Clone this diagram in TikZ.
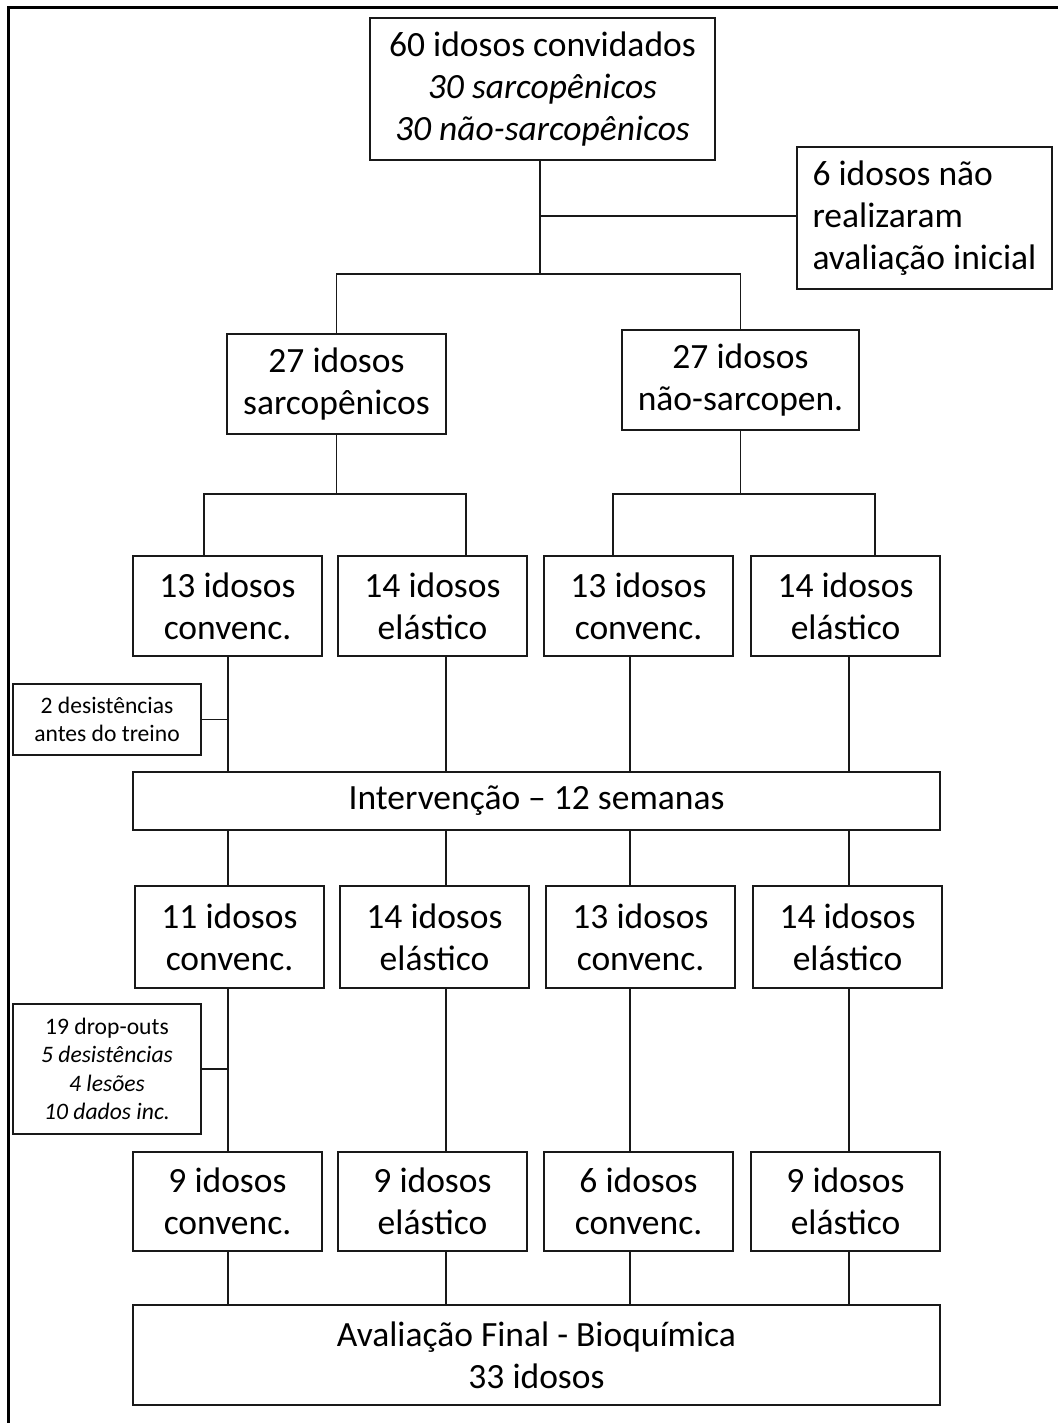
\documentclass[tikz,border=0pt]{standalone}
\usepackage{fontspec}
\setmainfont{Carlito}
\begin{document}
\begin{tikzpicture}[x=1pt,y=-1pt,
  box/.style={draw=black!90, line width=1.8pt, inner sep=0pt, align=center,
    font=\fontsize{35.5}{42}\selectfont},
  smallbox/.style={box, font=\fontsize{23.6}{28.5}\selectfont},
  conn/.style={draw=black!90, line width=1.8pt}]
\useasboundingbox (0,0) rectangle (1058,1423);
\draw[line width=3pt] (8,1423) -- (8,8) -- (1058,8);
% nodes
\node[box, minimum width=345pt, minimum height=142pt] (top) at (542.5,89) {60 idosos convidados\\\textit{30 sarcopênicos}\\\textit{30 não-sarcopênicos}};
\node[box, minimum width=255pt, minimum height=142pt, align=left] (side) at (924.5,218) {6 idosos não\\realizaram\\avaliação inicial};
\node[box, minimum width=219pt, minimum height=100pt] (sarc) at (336.5,384) {27 idosos\\sarcopênicos};
\node[box, minimum width=237pt, minimum height=100pt] (nsarc) at (740.5,380) {27 idosos\\não-sarcopen.};
% row 3
\node[box, minimum width=189pt, minimum height=100pt] (a1) at (227.5,606) {13 idosos\\convenc.};
\node[box, minimum width=189pt, minimum height=100pt] (a2) at (432.5,606) {14 idosos\\elástico};
\node[box, minimum width=189pt, minimum height=100pt] (a3) at (638.5,606) {13 idosos\\convenc.};
\node[box, minimum width=189pt, minimum height=100pt] (a4) at (845.5,606) {14 idosos\\elástico};
\node[smallbox, minimum width=188pt, minimum height=71pt] (d1) at (107,719.5) {2 desistências\\antes do treino};
\node[box, minimum width=807pt, minimum height=58pt] (iv) at (536.5,801) {Intervenção – 12 semanas};
% row 4
\node[box, minimum width=189pt, minimum height=102pt] (b1) at (229.5,937) {11 idosos\\convenc.};
\node[box, minimum width=189pt, minimum height=102pt] (b2) at (434.5,937) {14 idosos\\elástico};
\node[box, minimum width=189pt, minimum height=102pt] (b3) at (640.5,937) {13 idosos\\convenc.};
\node[box, minimum width=189pt, minimum height=102pt] (b4) at (847.5,937) {14 idosos\\elástico};
\node[smallbox, minimum width=188pt, minimum height=130pt] (d2) at (107,1069) {19 drop-outs\\\textit{5 desistências}\\\textit{4 lesões}\\\textit{10 dados inc.}};
% row 5
\node[box, minimum width=189pt, minimum height=99pt] (c1) at (227.5,1201.5) {9 idosos\\convenc.};
\node[box, minimum width=189pt, minimum height=99pt] (c2) at (432.5,1201.5) {9 idosos\\elástico};
\node[box, minimum width=189pt, minimum height=99pt] (c3) at (638.5,1201.5) {6 idosos\\convenc.};
\node[box, minimum width=189pt, minimum height=99pt] (c4) at (845.5,1201.5) {9 idosos\\elástico};
\node[box, minimum width=807pt, minimum height=100pt] (fin) at (536.5,1355) {Avaliação Final - Bioquímica\\33 idosos};
% junction coordinates
\coordinate (j0) at (540,274);
\coordinate (s1) at (204,494);
\coordinate (s2) at (466,494);
\coordinate (s3) at (613,494);
\coordinate (s4) at (875,494);
\coordinate (x1) at (228,0);
\coordinate (x2) at (446,0);
\coordinate (x3) at (630,0);
\coordinate (x4) at (849,0);
% connectors
\draw[conn] (top.south -| j0) -- (j0);
\draw[conn] (sarc.north) |- (j0) -| (nsarc.north);
\draw[conn] (side.west |- 0,216) -- (j0 |- 0,216);
\draw[conn] (sarc.south) -- (sarc.south |- s1);
\draw[conn] (a1.north -| s1) -- (s1) -- (s2) -- (a2.north -| s2);
\draw[conn] (nsarc.south) -- (nsarc.south |- s3);
\draw[conn] (a3.north -| s3) -- (s3) -- (s4) -- (a4.north -| s4);
\draw[conn] (a1.south -| x1) -- (iv.north -| x1);
\draw[conn] (a2.south -| x2) -- (iv.north -| x2);
\draw[conn] (a3.south -| x3) -- (iv.north -| x3);
\draw[conn] (a4.south -| x4) -- (iv.north -| x4);
\draw[conn] (iv.south -| x1) -- (b1.north -| x1);
\draw[conn] (iv.south -| x2) -- (b2.north -| x2);
\draw[conn] (iv.south -| x3) -- (b3.north -| x3);
\draw[conn] (iv.south -| x4) -- (b4.north -| x4);
\draw[conn] (b1.south -| x1) -- (c1.north -| x1);
\draw[conn] (b2.south -| x2) -- (c2.north -| x2);
\draw[conn] (b3.south -| x3) -- (c3.north -| x3);
\draw[conn] (b4.south -| x4) -- (c4.north -| x4);
\draw[conn] (c1.south -| x1) -- (fin.north -| x1);
\draw[conn] (c2.south -| x2) -- (fin.north -| x2);
\draw[conn] (c3.south -| x3) -- (fin.north -| x3);
\draw[conn] (c4.south -| x4) -- (fin.north -| x4);
\draw[conn] (d1.east) -- (d1.east -| x1);
\draw[conn] (d2.east) -- (d2.east -| x1);
\end{tikzpicture}
\end{document}
